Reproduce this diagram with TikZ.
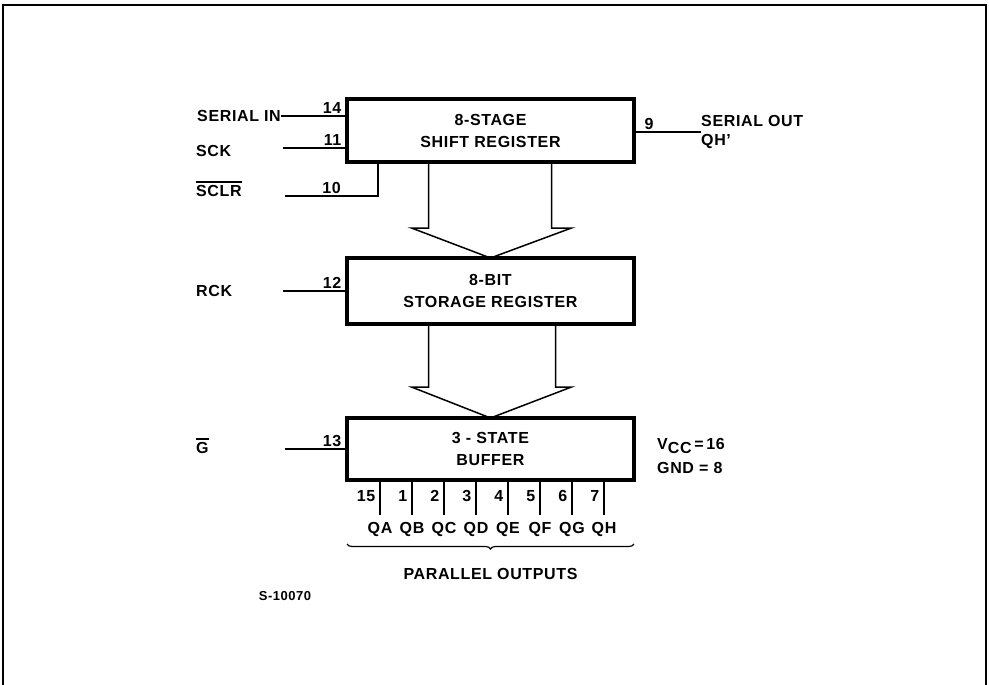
\documentclass[tikz,border=0pt]{standalone}
\usepackage{fontspec}
\setmainfont{Liberation Sans}[LetterSpace=4]
\usetikzlibrary{calc, positioning, decorations.pathreplacing}
\newcommand{\barred}[1]{\leavevmode\vbox{\hrule height 1.4pt\kern2.5pt\hbox{#1}}}

\begin{document}
\begin{tikzpicture}[
  x=1pt, y=-1pt,
  font=\fontsize{16}{18}\selectfont\bfseries,
  reg/.style={draw, line width=3.4pt, minimum width=287pt, align=center,
              inner sep=0pt, outer sep=0pt, font=\fontsize{16}{22}\selectfont\bfseries},
  wire/.style={line width=1.3pt},
  bus/.style={line width=1.5pt, line join=miter},
  lbl/.style={inner sep=0pt, anchor=west},
  pinno/.style={inner sep=0pt},
  frame/.style={line width=2.4pt},
  brc/.style={decorate, decoration={brace, amplitude=5pt}, line width=1.2pt}
]
\useasboundingbox (0,0) rectangle (989,685);

%% ——— Marco ———
\draw[frame] (3,685) -- (3,5) -- (986,5) -- (986,685);

%% ——— Registros ———
\node[reg, minimum height=63pt] (shift) at (490.5,130.5) {8-STAGE\\SHIFT REGISTER};
\node[reg, minimum height=66pt] (store) at (490.5,291)   {8-BIT\\STORAGE REGISTER};
\node[reg, minimum height=62pt] (buf)   at (490.5,449)   {3 - STATE\\BUFFER};

%% ——— Entradas ———
\node[lbl, anchor=east] (sin) at (281,116) {SERIAL IN};
\draw[wire] (sin.east) -- (sin.east -| shift.west)
  node[pinno, pos=1, anchor=south east, xshift=-5pt, yshift=2pt] (p14) {14};

\node[lbl] (sck) at (196,151) {SCK};
\coordinate (sckw) at (283,148);
\draw[wire] (sckw) -- (sckw -| shift.west)
  node[pinno, pos=1, anchor=south east, xshift=-5pt, yshift=2pt] (p11) {11};

\node[lbl] (sclr) at (196,189) {\barred{SCLR}};
\coordinate (sclrw) at (285,196);
\draw[wire] (sclrw) -| ([xshift=31pt]shift.south west);
\node[pinno, anchor=south east] (p10) at (341,194) {10};

\node[lbl] (rck) at (196,291) {RCK};
\coordinate (rckw) at (283,291);
\draw[wire] (rckw) -- (rckw -| store.west)
  node[pinno, pos=1, anchor=south east, xshift=-5pt, yshift=2pt] (p12) {12};

\node[lbl] (gbar) at (196,446) {\barred{G}};
\coordinate (gw) at (285,449);
\draw[wire] (gw) -- (gw -| buf.west)
  node[pinno, pos=1, anchor=south east, xshift=-5pt, yshift=2pt] (p13) {13};

%% ——— Salida serie ———
\node[lbl, align=left] (sout) at (701,132) {SERIAL OUT\\[1pt]QH'};
\draw[wire] (sout.west) -- (sout.west -| shift.east)
  node[pinno, pos=1, anchor=south west, xshift=10pt, yshift=2pt] (p9) {9};

%% ——— Flechas de bus ———
\draw[bus] ([xshift=-62pt]shift.south) -- ++(0,66) -- ++(-17,0) -- (store.north)
  -- ++(81,-30) -- ++(-20,0) -- ([xshift=61pt]shift.south);
\draw[bus] ([xshift=-62pt]store.south) -- ++(0,63) -- ++(-17,0) -- (buf.north)
  -- ++(81,-31) -- ++(-16,0) -- ([xshift=65pt]store.south);

%% ——— Salidas paralelas ———
\foreach \n/\q [count=\i from 0] in {15/QA,1/QB,2/QC,3/QD,4/QE,5/QF,6/QG,7/QH}
  \draw[wire] ([xshift={33+32*\i}]buf.south west) -- ++(0,35)
    node[pinno, anchor=north, yshift=-7pt] (q\i) {\q}
    node[pinno, pos=0.45, anchor=east, xshift=-4pt] (n\i) {\n};

\draw[brc] ([yshift=-64pt]buf.south east) -- ([yshift=-64pt]buf.south west)
  node[lbl, midway, anchor=north, yshift=-24pt] (pout) {PARALLEL OUTPUTS};

%% ——— Alimentación ———
\node[lbl, anchor=base west] (vcc) at (657,449) {V\raisebox{-4pt}{CC}\,=\,16};
\node[lbl, anchor=base west] (gnd) at (657,473) {GND = 8};

\node[lbl, anchor=center, font=\fontsize{13}{15}\selectfont\bfseries] (code) at (285,596) {S-10070};

\end{tikzpicture}
\end{document}
